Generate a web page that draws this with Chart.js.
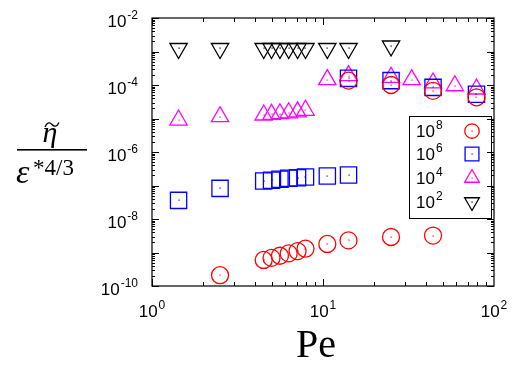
<!DOCTYPE html>
<html>
<head>
<meta charset="utf-8">
<script src="https://cdn.jsdelivr.net/npm/chart.js@4.4.1/dist/chart.umd.min.js"></script>
<style>
  html, body { margin: 0; padding: 0; background: #fff; }
  #wrap { width: 517px; height: 365px; position: relative; }
</style>
</head>
<body>
<div id="wrap"><canvas id="etaChart" width="517" height="365"></canvas></div>
<script>
// Pe values and eta/eps^(4/3) for each Ra series
const peRa8 = [2.5, 4.5, 5.0, 5.6, 6.3, 7.1, 7.9, 10.6, 14.1, 25, 44, 14.1, 25, 44, 79];
const etaRa8 = [2.1e-10, 6.0e-10, 6.9e-10, 8.0e-10, 9.4e-10, 1.1e-9, 1.3e-9, 1.8e-9, 2.3e-9, 2.9e-9, 3.2e-9,
                1.35e-4, 1.0e-4, 6.7e-5, 4.3e-5];

const peRa6 = [1.43, 2.5, 4.5, 5.0, 5.6, 6.3, 7.1, 7.9, 10.6, 14.1, 14.1, 25, 44, 79];
const etaRa6 = [3.6e-8, 8.2e-8, 1.36e-7, 1.43e-7, 1.53e-7, 1.64e-7, 1.71e-7, 1.79e-7, 1.92e-7, 2.06e-7,
                1.58e-4, 1.35e-4, 8.5e-5, 5.3e-5];

const peRa4 = [1.43, 2.5, 4.5, 5.0, 5.6, 6.3, 7.1, 7.9, 10.6, 14.1, 25, 33, 44, 59, 79];
const etaRa4 = [9.0e-6, 1.13e-5, 1.27e-5, 1.33e-5, 1.39e-5, 1.48e-5, 1.58e-5, 1.76e-5,
                1.45e-4, 1.9e-4, 1.7e-4, 1.44e-4, 1.15e-4, 9.5e-5, 7.6e-5];

const peRa2 = [1.43, 2.5, 4.5, 5.0, 5.6, 6.3, 7.1, 7.9, 10.6, 14.1, 25];
const etaRa2 = [1.23e-3, 1.23e-3, 1.23e-3, 1.23e-3, 1.23e-3, 1.23e-3, 1.23e-3, 1.23e-3, 1.23e-3, 1.23e-3, 1.46e-3];

const raExponents = ['8', '6', '4', '2'];
const xTickExponents = ['0', '1', '2'];
const yTickExponents = ['-10', '-8', '-6', '-4', '-2'];

function toPoints(xs, ys) {
  return xs.map((x, i) => ({ x: x, y: ys[i] }));
}

const markers = [
  { color: '#ff0000', style: 'circle', radius: 8.5, rotation: 0 },
  { color: '#0000ff', style: 'rect', radius: 11.5, rotation: 0 },
  { color: '#ff00ff', style: 'triangle', radius: 10, rotation: 0 },
  { color: '#000000', style: 'triangle', radius: 10, rotation: 180 }
];

const seriesData = [
  toPoints(peRa8, etaRa8),
  toPoints(peRa6, etaRa6),
  toPoints(peRa4, etaRa4),
  toPoints(peRa2, etaRa2)
];

const datasets = seriesData.map((pts, i) => ({
  label: '10^' + raExponents[i],
  data: pts,
  pointStyle: markers[i].style,
  pointRadius: markers[i].radius,
  pointRotation: markers[i].rotation,
  pointBorderColor: markers[i].color,
  pointBackgroundColor: 'rgba(0,0,0,0)',
  pointBorderWidth: 1.3,
  showLine: false,
  order: i
}));

function powText(ctx, base, exp, x, y, align, baseFont, expFont) {
  ctx.font = baseFont;
  const bw = ctx.measureText(base).width;
  ctx.font = expFont;
  const ew = ctx.measureText(exp).width;
  const total = bw + ew + 1;
  let left = x;
  if (align === 'center') left = x - total / 2;
  if (align === 'right') left = x - total;
  ctx.textAlign = 'left';
  ctx.textBaseline = 'alphabetic';
  ctx.font = baseFont;
  ctx.fillText(base, left, y);
  ctx.font = expFont;
  ctx.fillText(exp, left + bw + 1, y - 8);
}

const framePlugin = {
  id: 'frame',
  afterDatasetsDraw(chart) {
    const ctx = chart.ctx;
    const area = chart.chartArea;
    const xs = chart.scales.x;
    const ys = chart.scales.y;
    ctx.save();

    // centre dots in every marker
    chart.data.datasets.forEach((ds, i) => {
      const meta = chart.getDatasetMeta(i);
      ctx.fillStyle = markers[i].color;
      meta.data.forEach(el => {
        ctx.fillRect(Math.round(el.x) - 0.5, Math.round(el.y) - 0.5, 1.2, 1.2);
      });
    });

    // frame
    ctx.strokeStyle = '#000';
    ctx.lineWidth = 1.2;
    ctx.strokeRect(area.left, area.top, area.right - area.left, area.bottom - area.top);

    // ticks
    ctx.lineWidth = 1;
    ctx.beginPath();
    for (let d = 0; d <= 1; d++) {
      for (let m = 1; m <= 9; m++) {
        const v = Math.pow(10, d) * m;
        const px = Math.round(xs.getPixelForValue(v)) + 0.5;
        const len = m === 1 ? 7 : 4;
        ctx.moveTo(px, area.bottom); ctx.lineTo(px, area.bottom - len);
        ctx.moveTo(px, area.top); ctx.lineTo(px, area.top + len);
      }
    }
    for (let d = -10; d <= -2; d++) {
      for (let m = 1; m <= 9; m++) {
        const v = Math.pow(10, d) * m;
        if (d === -2 && m > 1) continue;
        const py = Math.round(ys.getPixelForValue(v)) + 0.5;
        const len = m === 1 ? 7 : 3;
        ctx.moveTo(area.left, py); ctx.lineTo(area.left + len, py);
        ctx.moveTo(area.right, py); ctx.lineTo(area.right - len, py);
      }
    }
    ctx.stroke();

    // tick labels
    ctx.fillStyle = '#000';
    const baseFont = '17px "Liberation Sans", Arial, sans-serif';
    const expFont = '12px "Liberation Sans", Arial, sans-serif';
    xTickExponents.forEach(e => {
      const px = xs.getPixelForValue(Math.pow(10, +e));
      powText(ctx, '10', e, px, area.bottom + 31, 'center', baseFont, expFont);
    });
    yTickExponents.forEach(e => {
      const py = ys.getPixelForValue(Math.pow(10, +e));
      powText(ctx, '10', e, area.left - 14, py + 9, 'right', baseFont, expFont);
    });

    // x axis title
    ctx.font = '40px "Liberation Serif", "Times New Roman", serif';
    ctx.textAlign = 'center';
    ctx.textBaseline = 'alphabetic';
    ctx.fillText('Pe', 316, 357);

    // y title as a fraction
    ctx.font = 'italic 30px "Liberation Serif", serif';
    ctx.fillText('\u03b7', 50, 142);
    ctx.lineWidth = 1.3;
    ctx.strokeStyle = '#000';
    ctx.beginPath();
    ctx.moveTo(45, 127);
    ctx.bezierCurveTo(47, 122, 50, 122, 52, 124.5);
    ctx.bezierCurveTo(54, 127, 57, 127, 59, 122.5);
    ctx.stroke();
    ctx.fillRect(17, 149, 70, 1.6);
    ctx.textAlign = 'left';
    ctx.font = 'italic 34px "Liberation Serif", serif';
    ctx.fillText('\u03b5', 16, 183);
    ctx.font = '23px "Liberation Serif", serif';
    ctx.fillText('*4/3', 33, 175);

    // legend box
    const lx = 409, ly = 116, lw = 82, lh = 102;
    ctx.lineWidth = 1;
    ctx.strokeStyle = '#000';
    ctx.strokeRect(lx + 0.5, ly + 0.5, lw, lh);
    const rowY = [131, 154, 178, 202];
    raExponents.forEach((e, i) => {
      ctx.fillStyle = '#000';
      powText(ctx, '10', e, 416, rowY[i] + 6, 'left', baseFont, expFont);
      const mk = markers[i];
      ctx.strokeStyle = mk.color;
      ctx.fillStyle = 'rgba(0,0,0,0)';
      ctx.lineWidth = 1.3;
      Chart.helpers.drawPoint(ctx, {
        pointStyle: mk.style,
        radius: mk.radius * 0.85,
        rotation: mk.rotation,
        borderWidth: 1.3
      }, 472, rowY[i]);
      ctx.fillStyle = mk.color;
      ctx.fillRect(471.5, rowY[i] - 0.5, 1.2, 1.2);
    });

    ctx.restore();
  }
};

const ctx = document.getElementById('etaChart').getContext('2d');
const etaChart = new Chart(ctx, {
  type: 'scatter',
  data: { datasets: datasets },
  options: {
    responsive: false,
    animation: false,
    layout: { padding: { left: 152, right: 23, top: 18, bottom: 79 } },
    plugins: {
      legend: { display: false },
      tooltip: { enabled: false }
    },
    scales: {
      x: { type: 'logarithmic', min: 1, max: 100, display: false },
      y: { type: 'logarithmic', min: 1e-10, max: 1e-2, display: false }
    }
  },
  plugins: [framePlugin]
});
</script>
</body>
</html>
